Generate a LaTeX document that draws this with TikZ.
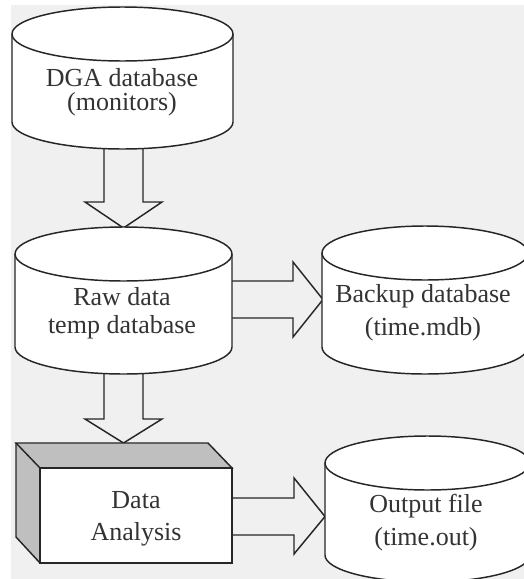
\documentclass[tikz,border=0pt]{standalone}
\usepackage{fontspec}
\setmainfont{Liberation Serif}
\begin{document}
\begin{tikzpicture}[x=0.75pt,y=-0.75pt,
  ln/.style={draw=black!85,line width=1.1pt,line join=miter},
  lbl/.style={anchor=base,inner sep=0pt,text=black!80,font=\fontsize{19.5}{23}\selectfont},
  barrow/.style={draw=black!85,line width=1.1pt,line join=miter}]
\useasboundingbox (0,0) rectangle (524,579);
\clip (0,0) rectangle (524,579);
\fill[white] (0,0) rectangle (524,579);
\fill[black!6] (11,5) rectangle (524,579);
% block arrows (drawn first so shapes cover their tails)
\draw[barrow] (104,140) -- (104,202) -- (85,202) -- (123.5,228) -- (162,202) -- (143,202) -- (143,140);
\draw[barrow] (104,360) -- (104,419) -- (85,419) -- (123.5,443) -- (162,419) -- (143,419) -- (143,360);
\draw[barrow] (220,281) -- (293,281) -- (293,262) -- (323,299.5) -- (293,337) -- (293,318) -- (220,318);
\draw[barrow] (220,498) -- (294,498) -- (294,478) -- (325,516.5) -- (294,554) -- (294,535) -- (220,535);
% cylinder: #1 left, #2 right, #3 top centre y, #4 bottom centre y
\newcommand\mycyl[4]{%
  \pgfmathsetmacro\cx{(#1+#2)/2}\pgfmathsetmacro\rx{(#2-#1)/2}%
  \fill[white] (#1,#3) -- (#1,#4) arc[start angle=180,end angle=0,x radius=\rx,y radius=27] -- (#2,#3) -- cycle;
  \draw[ln] (#1,#3) -- (#1,#4) arc[start angle=180,end angle=0,x radius=\rx,y radius=27] -- (#2,#3);
  \draw[ln,fill=white] (\cx,#3) ellipse[x radius=\rx,y radius=27];
}
\mycyl{12}{233}{34}{122}
\mycyl{15}{232}{254}{347}
\mycyl{322}{528}{253}{347}
\mycyl{325}{530}{463}{555}
% 3D box
\fill[black!25] (16,443) -- (208,443) -- (232,468) -- (40,468) -- cycle;
\fill[black!25] (16,443) -- (40,468) -- (40,563) -- (16,537) -- cycle;
\draw[ln] (16,443) -- (208,443) -- (232,468) -- (40,468) -- cycle;
\draw[ln] (16,443) -- (16,537) -- (40,563);
\draw[ln,fill=white,line width=1.5pt] (40,468) rectangle (232,563);
% texts
\node[lbl] (dgaA) at (122,86) {DGA database};
\node[lbl] (dgaB) at (122,110) {(monitors)};
\node[lbl] (rawA) at (122,305) {Raw data};
\node[lbl] (rawB) at (122,333) {temp database};
\node[lbl] (bakA) at (423,302) {Backup database};
\node[lbl] (bakB) at (423,335) {(time.mdb)};
\node[lbl] (anaA) at (136,508) {Data};
\node[lbl] (anaB) at (136,540) {Analysis};
\node[lbl] (outA) at (426,512) {Output file};
\node[lbl] (outB) at (426,545) {(time.out)};
\end{tikzpicture}
\end{document}
